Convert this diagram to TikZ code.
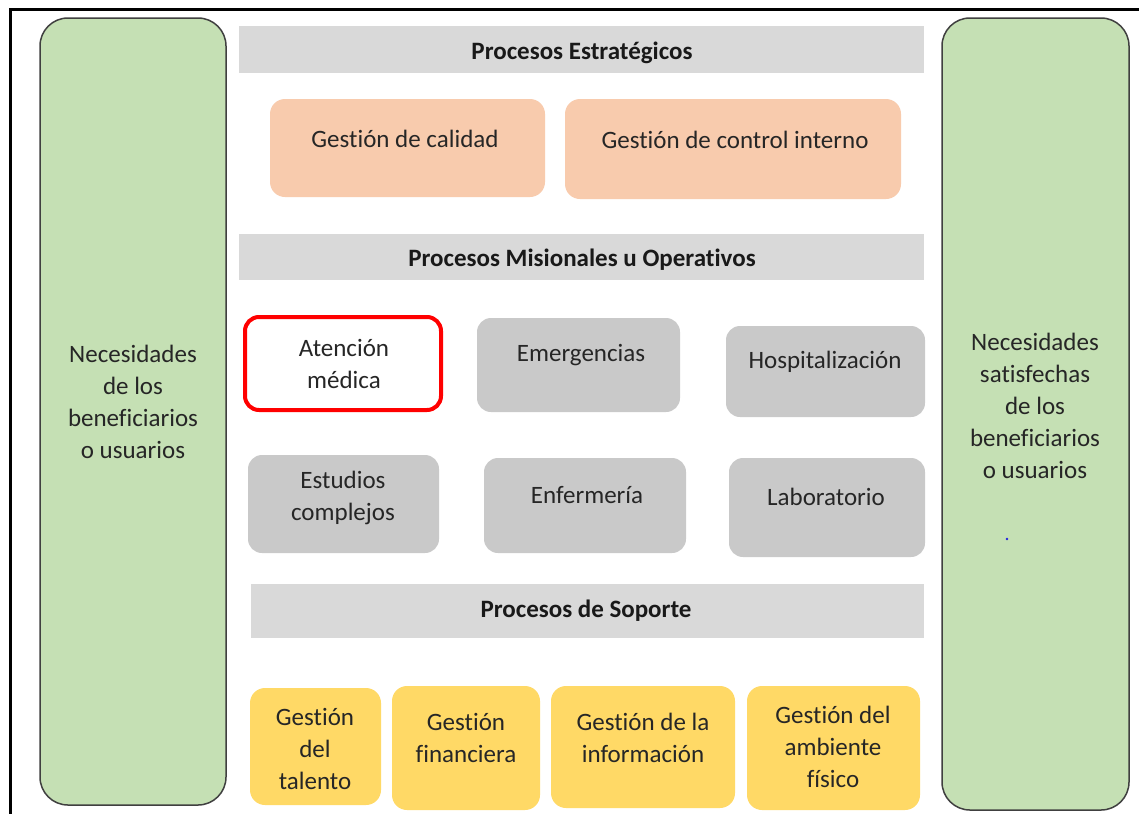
\documentclass[tikz,border=0pt]{standalone}
\usepackage{fontspec}
\setmainfont{Carlito}[Ligatures=NoCommon]
\definecolor{greenfill}{HTML}{C5E0B4}
\definecolor{greenline}{HTML}{404040}
\definecolor{headgray}{HTML}{D9D9D9}
\definecolor{procgray}{HTML}{C9C9C9}
\definecolor{orangefill}{HTML}{F8CBAD}
\definecolor{yellowfill}{HTML}{FFD966}
\definecolor{redline}{HTML}{FF0000}
\definecolor{dotblue}{HTML}{2020E0}
\begin{document}
\begin{tikzpicture}[x=1pt,y=-1pt,
  greenbox/.style={fill=greenfill,draw=greenline,line width=1.5pt,rounded corners=28pt},
  headbox/.style={fill=headgray},
  orangebox/.style={fill=orangefill,rounded corners=15pt},
  graybox/.style={fill=procgray,rounded corners=14pt},
  redbox/.style={fill=white,draw=redline,line width=4pt,rounded corners=14pt},
  yellowbox/.style={fill=yellowfill,rounded corners=15pt},
  txt/.style={align=center,font=\fontsize{25}{32}\selectfont,inner sep=0pt,text=black!85},
  headtxt/.style={align=center,font=\fontsize{25}{32}\selectfont\bfseries,inner sep=0pt,text=black!90,yshift=-2.5pt}]
\useasboundingbox (0,0) rectangle (1139,814);
\fill[white] (0,0) rectangle (1139,814);
% outer frame (cut at right and bottom)
\draw[line width=3pt] (1139,9.5) -- (10,9.5) -- (10,814);
% side boxes
\path[greenbox] (40,18) rectangle (226,805);
\path[greenbox] (942,18) rectangle (1129,810);
\node[txt] (need) at (133,402) {Necesidades\\de los\\beneficiarios\\o usuarios};
\node[txt] (sat) at (1035,406) {Necesidades\\satisfechas\\de los\\beneficiarios\\o usuarios};
\fill[dotblue] (1007,539) circle (1.3);
% strategic
\path[headbox] (239,26) rectangle (924,73);
\node[headtxt] (hstrat) at (582,50) {Procesos Estratégicos};
\path[orangebox] (270,99) rectangle (545,197);
\node[txt] (cal) at (405,139) {Gestión de calidad};
\path[orangebox] (565,99) rectangle (901,199);
\node[txt] (ctrl) at (735,140) {Gestión de control interno};
% misional
\path[headbox] (239,234) rectangle (924,280);
\node[headtxt] (hmis) at (582,257) {Procesos Misionales u Operativos};
\path[redbox] (245,317) rectangle (441,410);
\node[txt] (aten) at (344,364) {Atención\\médica};
\path[graybox] (477,318) rectangle (680,412);
\node[txt] (emer) at (581,355) {Emergencias};
\path[graybox] (726,326) rectangle (925,417);
\node[txt] (hosp) at (825,362) {Hospitalización};
\path[graybox] (248,455) rectangle (439,553);
\node[txt] (estu) at (343,498) {Estudios\\complejos};
\path[graybox] (484,458) rectangle (686,553);
\node[txt] (enf) at (587,495) {Enfermería};
\path[graybox] (729,458) rectangle (925,557);
\node[txt] (lab) at (826,497) {Laboratorio};
% soporte
\path[headbox] (251,584) rectangle (924,638);
\node[headtxt] (hsop) at (586,608) {Procesos de Soporte};
\path[yellowbox] (250,688) rectangle (381,805);
\node[txt] (tal) at (315,749) {Gestión\\del\\talento};
\path[yellowbox] (392,686) rectangle (540,810);
\node[txt] (fin) at (466,738) {Gestión\\financiera};
\path[yellowbox] (551,686) rectangle (735,808);
\node[txt] (inf) at (643,738) {Gestión de la\\información};
\path[yellowbox] (747,686) rectangle (920,810);
\node[txt] (amb) at (833,747) {Gestión del\\ambiente\\físico};
\end{tikzpicture}
\end{document}
